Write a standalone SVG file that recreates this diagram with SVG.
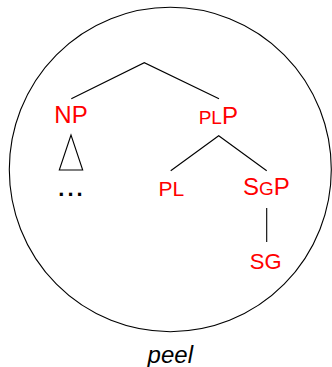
<svg xmlns="http://www.w3.org/2000/svg" width="332" height="367" viewBox="0 0 332 367">
<style>
.lbl{font-family:"Liberation Sans",Arial,sans-serif;fill:#ff0000;text-anchor:middle}
.big{font-size:24px}
.sm{font-size:19px}
.ln{stroke:#000;stroke-width:1.1;fill:none}
</style>
<rect width="332" height="367" fill="#fff"/>
<ellipse id="boundary" cx="170.3" cy="169.5" rx="161" ry="162.2" class="ln"/>
<g id="connectors">
<polyline class="ln" points="71.3,98.7 144.3,62.7 219,98.7"/>
<polyline class="ln" points="170.7,170.7 218.7,135.7 266.7,170.7"/>
<line class="ln" x1="266.7" y1="208" x2="266.7" y2="242"/>
<polygon class="ln" points="71,135 59.3,170 82.7,170"/>
</g>
<g id="NP"><text class="lbl big" x="71" y="123">NP</text></g>
<g id="PLP"><text class="lbl" x="218.3" y="123.5"><tspan class="sm">PL</tspan><tspan class="big">P</tspan></text></g>
<g id="NPcontent"><text x="72" y="196" font-family="Liberation Sans,Arial,sans-serif" font-size="22" font-weight="bold" letter-spacing="3" text-anchor="middle" fill="#000">...</text></g>
<g id="PL"><text class="lbl" x="171.3" y="196" font-size="21">PL</text></g>
<g id="SGP"><text class="lbl" x="266.3" y="194.5"><tspan class="big">S</tspan><tspan class="sm">G</tspan><tspan class="big">P</tspan></text></g>
<g id="SG"><text class="lbl" x="265.7" y="269" font-size="22">SG</text></g>
<text x="170.3" y="363.3" font-family="Liberation Sans,Arial,sans-serif" font-size="24" font-style="italic" text-anchor="middle" fill="#000">peel</text>
</svg>
